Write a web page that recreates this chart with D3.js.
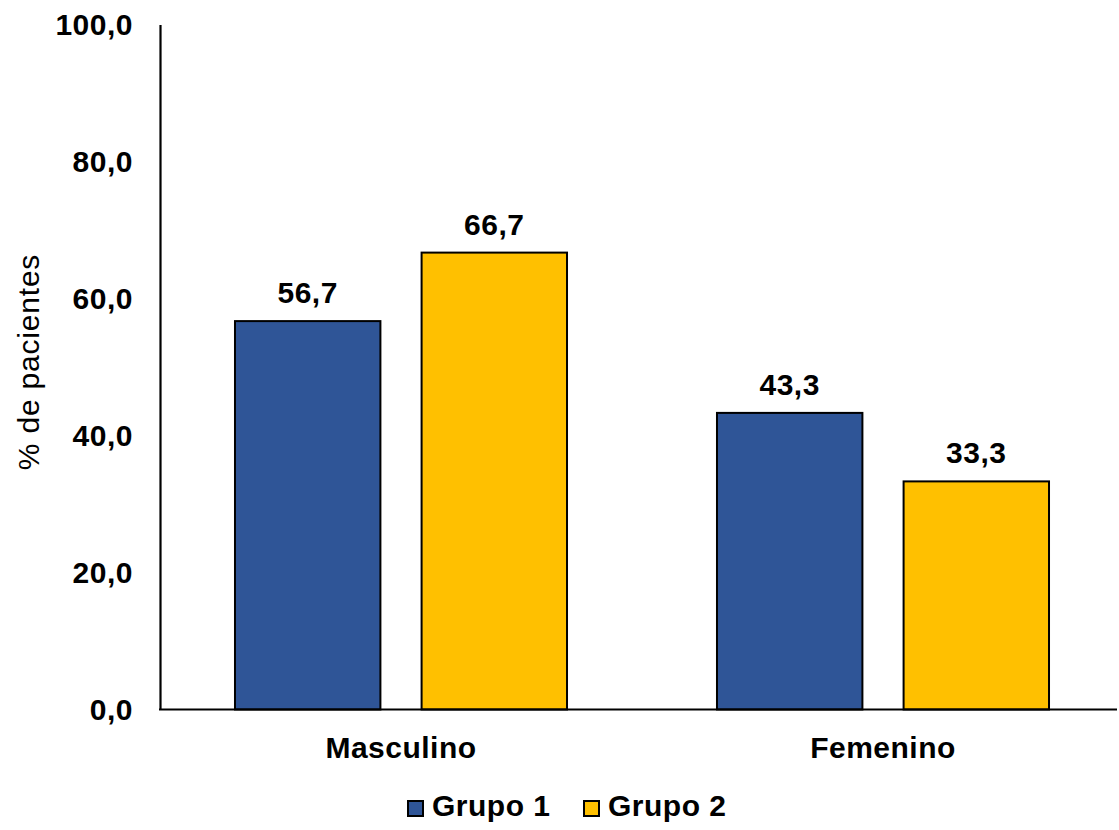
<!DOCTYPE html>
<html>
<head>
<meta charset="utf-8">
<script src="https://cdn.jsdelivr.net/npm/d3@7"></script>
<style>
  html, body { margin: 0; padding: 0; background: #ffffff; }
  svg { display: block; font-family: Arial, "Liberation Sans", sans-serif; }
</style>
</head>
<body>
<svg id="chart" width="1119" height="830"></svg>
<script>
// Sexo de los pacientes por grupo (%)
const categories = ["Masculino", "Femenino"];
const seriesNames = ["Grupo 1", "Grupo 2"];
const grupo1 = [56.7, 43.3];
const grupo2 = [66.7, 33.3];
const yTicks = [0, 20, 40, 60, 80, 100];
const seriesColors = ["#2F5597", "#FFC000"];

const rows = categories.map((c, i) => ({ category: c, values: [grupo1[i], grupo2[i]] }));
const fmt = v => d3.format(".1f")(v).replace(".", ",");

const FONT = "Arial, 'Liberation Sans', sans-serif";
const FS = 30, LS = 0.5;

const svg = d3.select("#chart");
const plotLeft = 160, plotRight = 1124, plotTop = 24.5, plotBottom = 709.5;

const x0 = d3.scaleBand().domain(categories).range([plotLeft, plotRight]).paddingInner(0.307).paddingOuter(0.1535);
const x1 = d3.scaleBand().domain(seriesNames).range([0, x0.bandwidth()]).paddingInner(0.21).paddingOuter(0);
const y = d3.scaleLinear().domain([0, 100]).range([plotBottom, plotTop]);

// Bars
const groups = svg.append("g").selectAll("g").data(rows).join("g")
  .attr("transform", d => `translate(${x0(d.category)},0)`);

groups.selectAll("rect")
  .data(d => d.values.map((v, i) => ({ series: seriesNames[i], value: v, i })))
  .join("rect")
  .attr("x", d => x1(d.series) + 1)
  .attr("y", d => y(d.value))
  .attr("width", x1.bandwidth() - 2)
  .attr("height", d => y(0) - y(d.value))
  .attr("fill", d => seriesColors[d.i])
  .attr("stroke", "#000")
  .attr("stroke-width", 2);

// Value labels
groups.selectAll("text.val")
  .data(d => d.values.map((v, i) => ({ series: seriesNames[i], value: v })))
  .join("text")
  .attr("class", "val")
  .attr("x", d => x1(d.series) + x1.bandwidth() / 2)
  .attr("y", d => y(d.value) - 18)
  .attr("text-anchor", "middle")
  .attr("font-size", FS)
  .attr("font-weight", "bold")
  .attr("letter-spacing", LS)
  .attr("fill", "#000")
  .text(d => fmt(d.value));

// Y axis
const yAxis = d3.axisLeft(y).tickValues(yTicks).tickSize(0).tickPadding(27).tickFormat(fmt);
const gy = svg.append("g").attr("transform", `translate(${plotLeft},0)`).call(yAxis);
gy.select(".domain").attr("stroke", "#000").attr("stroke-width", 2.2);
gy.selectAll(".tick text")
  .attr("font-size", FS)
  .attr("font-weight", "bold")
  .attr("letter-spacing", LS)
  .attr("fill", "#000")
  .attr("font-family", FONT);

// X axis
const xAxis = d3.axisBottom(x0).tickSize(0).tickPadding(27);
const gx = svg.append("g").attr("transform", `translate(0,${plotBottom})`).call(xAxis);
gx.select(".domain").attr("d", `M${plotLeft - 1},0H1117`).attr("stroke", "#000").attr("stroke-width", 2.2);
gx.selectAll(".tick text")
  .attr("font-size", FS)
  .attr("font-weight", "bold")
  .attr("letter-spacing", LS)
  .attr("fill", "#000")
  .attr("font-family", FONT);

// Y axis title
svg.append("text")
  .attr("transform", `translate(39,${(plotTop + plotBottom) / 2 - 5}) rotate(-90)`)
  .attr("text-anchor", "middle")
  .attr("font-size", FS)
  .attr("letter-spacing", 0.8)
  .attr("fill", "#000")
  .text("% de pacientes");

// Legend
const legendX = [407, 583];
const legend = svg.append("g").selectAll("g").data(seriesNames).join("g")
  .attr("transform", (d, i) => `translate(${legendX[i]},800)`);
legend.append("rect")
  .attr("x", 1).attr("y", 1).attr("width", 15).attr("height", 15)
  .attr("fill", (d, i) => seriesColors[i])
  .attr("stroke", "#000").attr("stroke-width", 2);
legend.append("text")
  .attr("x", 25).attr("y", 16)
  .attr("font-size", FS)
  .attr("font-weight", "bold")
  .attr("letter-spacing", LS)
  .attr("fill", "#000")
  .text(d => d);
</script>
</body>
</html>
